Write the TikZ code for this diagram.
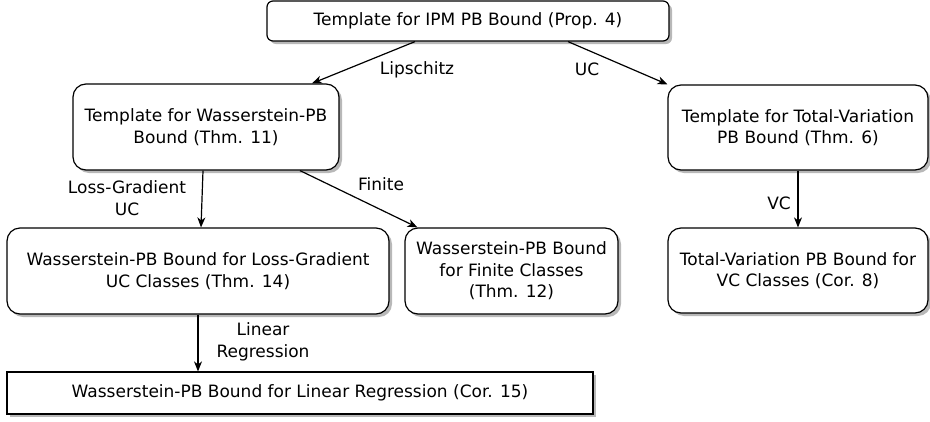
\documentclass[tikz,border=0pt]{standalone}
\usepackage{fontspec}
\setmainfont{DejaVu Sans}
\usetikzlibrary{arrows.meta,shadows}
\begin{document}
\begin{tikzpicture}[x=1pt,y=-1pt,
  every node/.style={font=\fontsize{17}{21.5}\selectfont, inner sep=0pt},
  box/.style={draw, line width=1.2pt, fill=white, align=center, rounded corners=13pt,
    drop shadow={shadow xshift=3pt, shadow yshift=-3pt, fill=black!28, opacity=1}},
  arr/.style={line width=1.2pt, -{Stealth[length=10pt,width=8pt,inset=3pt]}},
  lbl/.style={align=center}]
\useasboundingbox (0,0) rectangle (930,421);
\node[box, rounded corners=6pt, minimum width=402pt, minimum height=40pt] (top) at (468,21) {Template for IPM PB Bound (Prop. 4)};
\node[box, minimum width=266pt, minimum height=86pt] (tw) at (206,127) {Template for Wasserstein-PB\\Bound (Thm. 11)};
\node[box, minimum width=260pt, minimum height=85pt] (tv) at (798,127.5) {Template for Total-Variation\\PB Bound (Thm. 6)};
\node[box, minimum width=382pt, minimum height=86pt] (lg) at (198,271) {Wasserstein-PB Bound for Loss-Gradient\\UC Classes (Thm. 14)};
\node[box, minimum width=213pt, minimum height=86pt] (fin) at (511.5,271) {Wasserstein-PB Bound\\for Finite Classes\\(Thm. 12)};
\node[box, minimum width=260pt, minimum height=85pt] (vc) at (798,270.5) {Total-Variation PB Bound for\\VC Classes (Cor. 8)};
\node[box, rounded corners=0pt, minimum width=586pt, minimum height=42pt] (bot) at (300,393) {Wasserstein-PB Bound for Linear Regression (Cor. 15)};

\draw[arr] ([xshift=-53pt]top.south) -- ([xshift=106pt]tw.north);
\draw[arr] ([xshift=100pt]top.south) -- (tv.north west);
\draw[arr] ([xshift=-3pt]tw.south) -- ([xshift=3pt]lg.north);
\draw[arr] ([xshift=94pt]tw.south) -- ([xshift=13pt]fin.north west);
\draw[arr] (tv.south) -- (vc.north);
\draw[arr] (lg.south) -- (lg.south |- bot.north);

\node[lbl] (l1) at (417,70) {Lipschitz};
\node[lbl] (l2) at (587,69) {UC};
\node[lbl] (l3) at (127,198) {Loss-Gradient\\UC};
\node[lbl] (l4) at (381,184) {Finite};
\node[lbl] (l5) at (779,203) {VC};
\node[lbl] (l6) at (263,342) {Linear\\Regression};
\end{tikzpicture}
\end{document}
